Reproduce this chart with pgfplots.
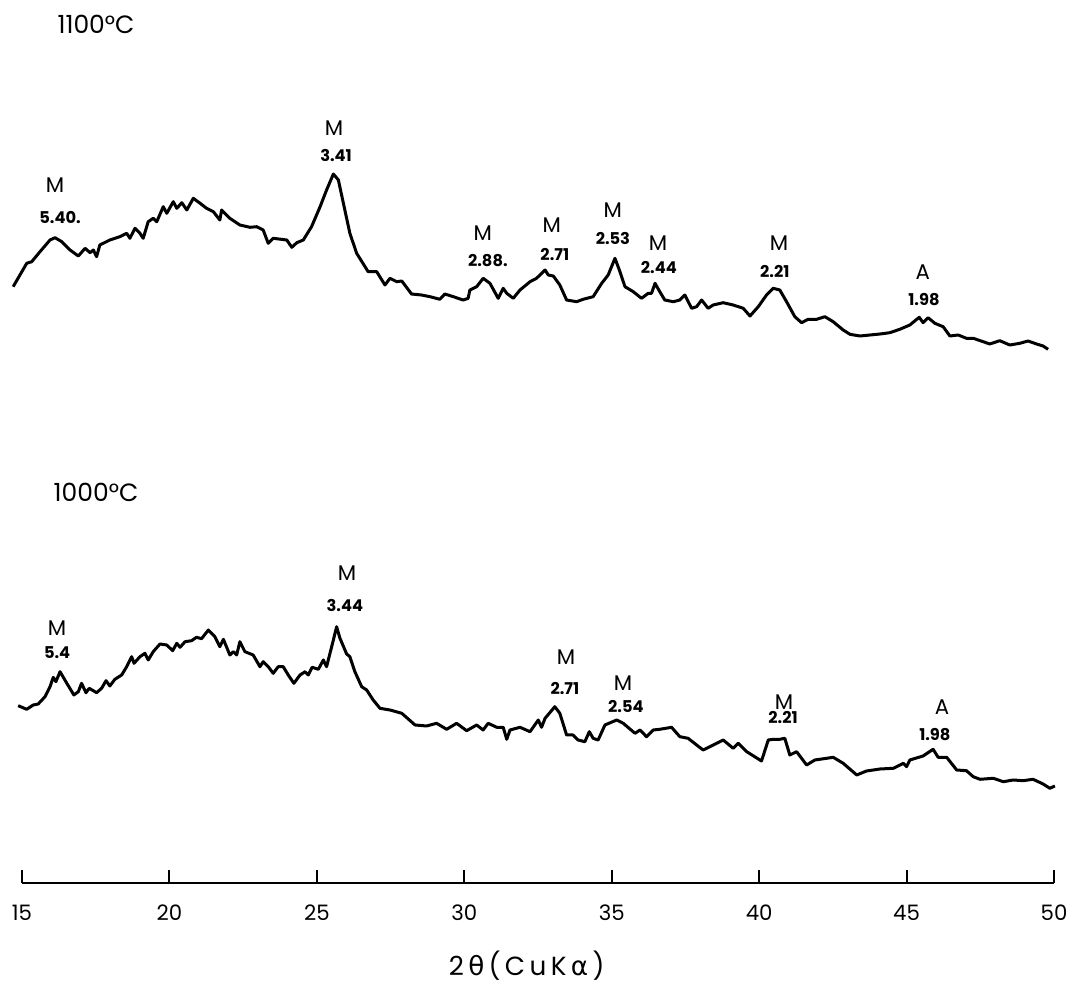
\documentclass[border=0pt]{standalone}
\usepackage{fontspec}
\setmainfont{Poppins}
\newfontfamily\greekfont{DejaVu Sans}
\usepackage{pgfplots}
\usepackage{pgfplotstable}
\pgfplotsset{compat=1.18}

% 1100 C trace: 2theta, height above baseline
\pgfplotstableread{
tt I
14.70 596.3
14.93 608
15.16 619.7
15.33 621.3
15.61 631.3
15.95 643
16.12 645.3
16.35 641.3
16.63 633
16.91 627
17.14 634.7
17.31 630.3
17.42 633
17.53 626.3
17.64 638
17.98 643
18.32 646.3
18.55 649.7
18.66 644.7
18.83 654.7
19.00 649.7
19.11 644.7
19.28 661.3
19.45 664.7
19.57 661.3
19.79 676.3
19.91 669.7
20.13 681.3
20.25 674.7
20.42 680.3
20.59 673
20.81 684.7
21.04 679.7
21.26 674.7
21.49 671.3
21.71 663
21.77 673
22.05 664.7
22.39 658
22.73 655.7
22.96 656.3
23.18 653
23.35 639.7
23.52 644.7
23.98 643
24.15 635.7
24.32 640.3
24.54 643
24.82 656.3
25.11 676.3
25.33 693
25.56 709
25.73 703
25.90 679.7
26.12 649.7
26.35 629.7
26.74 611.3
27.03 611.3
27.31 598
27.48 604.7
27.71 601.3
27.88 602
28.21 589
28.55 588
28.84 586.3
29.17 583.7
29.34 589
29.63 586.3
29.96 583
30.13 584.7
30.19 593
30.42 596.3
30.64 604.7
30.87 599.7
31.15 584.7
31.32 594.7
31.44 589.7
31.66 584.7
31.89 593
32.23 601.3
32.45 604.7
32.74 613
32.85 608
33.02 607
33.24 598
33.47 583
33.81 581.3
34.03 583.7
34.37 586.3
34.66 599.7
34.88 608
35.11 624.7
35.28 611.3
35.45 596.3
35.73 591.3
36.01 584.7
36.24 589.7
36.35 589.7
36.47 599.7
36.63 591.3
36.80 583
37.09 581.3
37.31 583
37.48 588
37.71 574.7
37.88 576.3
38.05 583
38.27 574.7
38.44 578
38.78 580.3
39.12 578
39.46 574.7
39.69 567
39.97 576.3
40.25 588
40.48 594.7
40.70 593
40.93 581.3
41.21 566.3
41.44 560.3
41.66 563.7
41.95 563.7
42.23 566.3
42.51 561.3
42.85 553
43.08 548.7
43.42 547
43.76 548
44.10 549
44.43 550.3
44.77 553.7
45.11 558
45.43 565.7
45.56 560.3
45.73 565.3
45.96 559.7
46.24 556.3
46.47 547
46.75 548
47.03 544.7
47.26 544.7
47.60 541.3
47.82 539
48.16 542.3
48.50 538
48.84 539.7
49.12 542
49.41 539
49.63 537
49.80 533.7
}\hundred

% 1000 C trace
\pgfplotstableread{
tt I
14.87 177.3
15.16 173.7
15.38 178
15.55 179
15.78 186.3
15.95 196.3
16.06 205.7
16.15 201.3
16.29 211.3
16.52 199.7
16.76 188
16.91 191.3
17.02 199.7
17.17 190.3
17.28 194.7
17.53 190.3
17.70 194.7
17.85 202.3
17.98 197
18.15 203.7
18.38 208
18.55 216.3
18.72 226.3
18.80 219.7
19.00 226.3
19.17 229.7
19.28 223
19.45 231.3
19.68 239
19.91 238
20.11 232.3
20.25 239.7
20.36 235.7
20.53 241.3
20.75 242.3
20.92 245.7
21.09 244.3
21.32 253
21.54 246.3
21.71 236.3
21.83 243.7
22.05 228
22.17 231.3
22.28 228
22.39 241.3
22.56 231.3
22.84 228
23.07 216.3
23.18 221.3
23.35 216.3
23.52 209.7
23.69 216.3
23.86 216.3
24.03 208
24.22 199.7
24.43 208
24.60 211.3
24.71 208
24.84 215.7
25.05 213.7
25.22 223
25.33 216.3
25.56 243
25.67 256.3
25.78 245
26.01 229
26.12 226.3
26.29 211.3
26.52 196.3
26.69 193
26.91 183
27.14 174.7
27.48 173
27.88 169.7
28.33 158
28.72 157
29.06 159.7
29.40 153.7
29.74 159.7
30.08 152.3
30.42 158
30.64 153
30.81 159.7
31.10 155.7
31.32 155.7
31.44 143.7
31.55 153
31.89 155.7
32.23 151.3
32.51 163
32.62 155.7
32.74 164.7
33.07 176.3
33.24 169.7
33.47 148
33.69 148
33.86 143
34.09 141.3
34.24 151.3
34.37 144.7
34.54 143
34.77 158
35.17 163
35.39 159.7
35.79 149.7
35.96 153
36.18 146.3
36.41 153
36.63 153.7
37.03 155.7
37.31 146.3
37.59 144.7
37.88 138
38.10 133
38.33 136.3
38.78 143
39.12 134.7
39.29 139.7
39.58 131.3
40.08 122
40.31 143
40.48 143.7
40.70 143.7
40.87 144.7
41.04 128
41.27 131.3
41.61 118
41.89 123
42.29 124.7
42.51 125.7
42.85 119.7
43.31 108
43.64 112
44.10 114
44.55 114.7
44.89 119.7
45.00 116.3
45.11 123
45.56 127
45.90 133.7
46.07 125.7
46.36 125.7
46.70 113
47.03 112.3
47.26 106.3
47.49 103.7
47.94 104.7
48.28 101.3
48.62 103
48.95 102.3
49.29 103.7
49.63 99
49.86 94.7
50.03 97
}\thousand

\tikzset{
  mlab/.style={font=\fontsize{8.5}{10}\selectfont, inner sep=0pt},
  dlab/.style={font=\fontsize{6.5}{8}\selectfont\bfseries, inner sep=0pt},
  tlab/.style={font=\fontsize{10}{12}\selectfont, inner sep=0pt},
}

\begin{document}
\begin{tikzpicture}
\begin{axis}[
  scale only axis, width=412.8pt, height=353.2pt,
  xmin=15, xmax=50, ymin=0, ymax=883,
  axis x line*=bottom, axis y line=none, ytick=\empty,
  x axis line style={line width=0.8pt, -},
  xtick={15,20,...,50}, minor xtick={},
  tick align=inside, major tick length=5.2pt,
  x tick style={line width=0.8pt, black},
  /pgf/number format/assume math mode=true,
  xticklabel style={font=\fontsize{8.5}{10}\selectfont, anchor=center, yshift=-12pt},
  xlabel={2\,{\greekfont θ}\,(\,C\,u\,K\,{\greekfont α}\,)},
  xlabel style={font=\fontsize{10.5}{12}\selectfont, at={(axis description cs:0.489,0)}, anchor=center, yshift=-33pt},
  clip=false,
]
\addplot[black, line width=1.2pt, line join=round] table[x=tt, y=I] {\hundred};
\addplot[black, line width=1.2pt, line join=round] table[x=tt, y=I] {\thousand};

\node[tlab] at (axis cs:17.51,859) {1100°C};
\node[tlab] at (axis cs:17.51,391) {1000°C};

\node[mlab] at (axis cs:16.12,698) {M};
\node[dlab] at (axis cs:16.29,665) {5.40.};
\node[mlab] at (axis cs:25.58,755) {M};
\node[dlab] at (axis cs:25.65,728) {3.41};
\node[mlab] at (axis cs:30.63,650) {M};
\node[dlab] at (axis cs:30.80,622) {2.88.};
\node[mlab] at (axis cs:32.97,658) {M};
\node[dlab] at (axis cs:33.07,628) {2.71};
\node[mlab] at (axis cs:35.04,673) {M};
\node[dlab] at (axis cs:35.04,645) {2.53};
\node[mlab] at (axis cs:36.57,640) {M};
\node[dlab] at (axis cs:36.60,615) {2.44};
\node[mlab] at (axis cs:40.67,640) {M};
\node[dlab] at (axis cs:40.53,611) {2.21};
\node[mlab] at (axis cs:45.55,611) {A};
\node[dlab] at (axis cs:45.59,583) {1.98};

\node[mlab] at (axis cs:16.19,255) {M};
\node[dlab] at (axis cs:16.19,230) {5.4};
\node[mlab] at (axis cs:26.02,310) {M};
\node[dlab] at (axis cs:25.95,278) {3.44};
\node[mlab] at (axis cs:33.45,226) {M};
\node[dlab] at (axis cs:33.41,194) {2.71};
\node[mlab] at (axis cs:35.38,200) {M};
\node[dlab] at (axis cs:35.48,176) {2.54};
\node[mlab] at (axis cs:40.84,181) {M};
\node[dlab] at (axis cs:40.81,165) {2.21};
\node[mlab] at (axis cs:46.20,176) {A};
\node[dlab] at (axis cs:45.96,148) {1.98};
\end{axis}
\pgfresetboundingbox
\path (-8.8pt,-40.4pt) rectangle (420.4pt,353.2pt);
\end{tikzpicture}
\end{document}
